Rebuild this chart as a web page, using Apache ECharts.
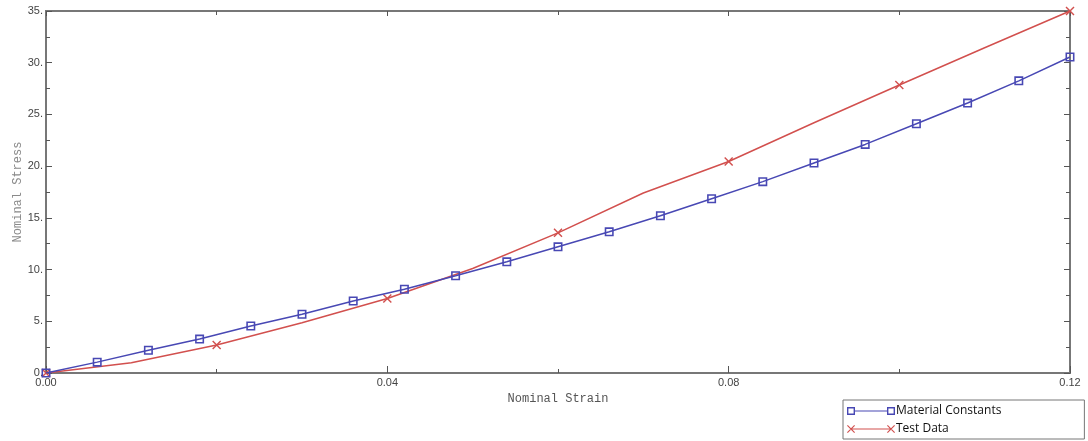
<!DOCTYPE html>
<html>
<head>
<meta charset="utf-8">
<script src="https://cdn.jsdelivr.net/npm/echarts@6/dist/echarts.min.js"></script>
<style>html,body{margin:0;padding:0;background:#fff}#c{width:1088px;height:441px}</style>
</head>
<body>
<div id="c"></div>
<script>
// Material Constants (model curve)
const matStrain = [0, 0.006, 0.012, 0.018, 0.024, 0.030, 0.036, 0.042, 0.048, 0.054, 0.060,
                   0.066, 0.072, 0.078, 0.084, 0.090, 0.096, 0.102, 0.108, 0.114, 0.120];
const matStress = [0, 1.05, 2.2, 3.28, 4.54, 5.68, 6.96, 8.1, 9.4, 10.75, 12.2,
                   13.65, 15.2, 16.85, 18.5, 20.3, 22.1, 24.1, 26.1, 28.25, 30.55];
// Test Data
const testStrain = [0, 0.01, 0.02, 0.03, 0.04, 0.05, 0.06, 0.07, 0.08, 0.09, 0.10, 0.11, 0.12];
const testStress = [0, 1.0, 2.7, 4.85, 7.2, 10.1, 13.55, 17.4, 20.45, 24.2, 27.85, 31.45, 35.0];
// tick labels
const xTickLabels = ['0.00', '0.04', '0.08', '0.12'];
const yTickLabels = ['0.', '5.', '10.', '15.', '20.', '25.', '30.', '35.'];

const blue = '#4848b4';
const red = '#d2504e';
const sqPath = 'path://M0,0 L8,0 L8,8 L0,8 Z M1.4,1.4 L1.4,6.6 L6.6,6.6 L6.6,1.4 Z';
const xPath = 'path://M0,0.9 L0.9,0 L8,7.1 L7.1,8 Z M7.1,0 L8,0.9 L0.9,8 L0,7.1 Z';
const legSq = 'path://M0,0 L8,0 L8,8 L0,8 Z M1.4,1.4 L1.4,6.6 L6.6,6.6 L6.6,1.4 Z ' +
  'M8,3.5 L40,3.5 L40,4.5 L8,4.5 Z M40,0 L48,0 L48,8 L40,8 Z M41.4,1.4 L41.4,6.6 L46.6,6.6 L46.6,1.4 Z';
const legX = 'path://M0,0.8 L0.8,0 L8,7.2 L7.2,8 Z M7.2,0 L8,0.8 L0.8,8 L0,7.2 Z ' +
  'M4,3.5 L44,3.5 L44,4.5 L4,4.5 Z M40,0.8 L40.8,0 L48,7.2 L47.2,8 Z M47.2,0 L48,0.8 L40.8,8 L40,7.2 Z';

const axisLineStyle = {color: '#777', width: 2};
const tickStyle = {color: '#555', width: 1};

const chart = echarts.init(document.getElementById('c'), null, {renderer: 'canvas'});
chart.setOption({
  animation: false,
  backgroundColor: '#fff',
  grid: {left: 46, right: 18, top: 11, bottom: 68, show: true, borderColor: '#777', borderWidth: 2},
  legend: {
    orient: 'vertical', left: 843, top: 400,
    padding: [5, 83, 4, 4], itemGap: 6,
    borderColor: '#777', borderWidth: 1,
    itemWidth: 48, itemHeight: 8,
    textStyle: {fontFamily: 'Open Sans', fontSize: 12, color: '#111', padding: [0, 0, 0, -4]},
    data: [{name: 'Material Constants', icon: legSq}, {name: 'Test Data', icon: legX}]
  },
  xAxis: [{
    type: 'value', min: 0, max: 0.12, interval: 0.04,
    name: 'Nominal Strain', nameLocation: 'middle', nameGap: 18,
    nameTextStyle: {fontFamily: 'Liberation Mono', fontSize: 12, color: '#555'},
    axisLine: {show: true, onZero: false, lineStyle: axisLineStyle},
    axisTick: {show: true, inside: true, length: 7, lineStyle: tickStyle},
    minorTick: {show: true, splitNumber: 2, length: 4, lineStyle: tickStyle},
    axisLabel: {margin: 4, fontFamily: 'Liberation Sans', fontSize: 11, color: '#444',
      formatter: v => xTickLabels[Math.round(v / 0.04)]},
    splitLine: {show: false}
  }, {
    type: 'value', position: 'top', min: 0, max: 0.12, interval: 0.04,
    axisLine: {show: true, onZero: false, lineStyle: axisLineStyle},
    axisTick: {show: true, inside: true, length: 5, lineStyle: tickStyle},
    minorTick: {show: true, splitNumber: 2, length: 4, lineStyle: tickStyle},
    axisLabel: {show: false}, splitLine: {show: false}
  }],
  yAxis: [{
    type: 'value', min: 0, max: 35, interval: 5,
    name: 'Nominal Stress', nameLocation: 'middle', nameGap: 22, nameMoveOverlap: false,
    nameTextStyle: {fontFamily: 'Liberation Mono', fontSize: 12, color: '#8a8a8a'},
    axisLine: {show: true, onZero: false, lineStyle: axisLineStyle},
    axisTick: {show: true, inside: true, length: 6, lineStyle: tickStyle},
    minorTick: {show: true, splitNumber: 2, length: 4, lineStyle: tickStyle},
    axisLabel: {margin: 3, fontFamily: 'Liberation Sans', fontSize: 11, color: '#444',
      formatter: v => yTickLabels[Math.round(v / 5)]},
    splitLine: {show: false}
  }, {
    type: 'value', position: 'right', min: 0, max: 35, interval: 5,
    axisLine: {show: true, onZero: false, lineStyle: axisLineStyle},
    axisTick: {show: true, inside: true, length: 6, lineStyle: tickStyle},
    minorTick: {show: true, splitNumber: 2, length: 4, lineStyle: tickStyle},
    axisLabel: {show: false}, splitLine: {show: false}
  }],
  series: [{
    name: 'Material Constants', type: 'line',
    data: matStrain.map((x, i) => [x, matStress[i]]),
    symbol: sqPath, symbolSize: 9, showAllSymbol: true,
    lineStyle: {color: blue, width: 1.5},
    itemStyle: {color: blue},
    z: 3
  }, {
    name: 'Test Data', type: 'line',
    data: testStrain.map((x, i) => ({value: [x, testStress[i]], symbol: i % 2 === 0 ? xPath : 'none'})),
    symbolSize: 9, showAllSymbol: true,
    lineStyle: {color: red, width: 1.5},
    itemStyle: {color: red},
    z: 2
  }]
});
</script>
</body>
</html>
